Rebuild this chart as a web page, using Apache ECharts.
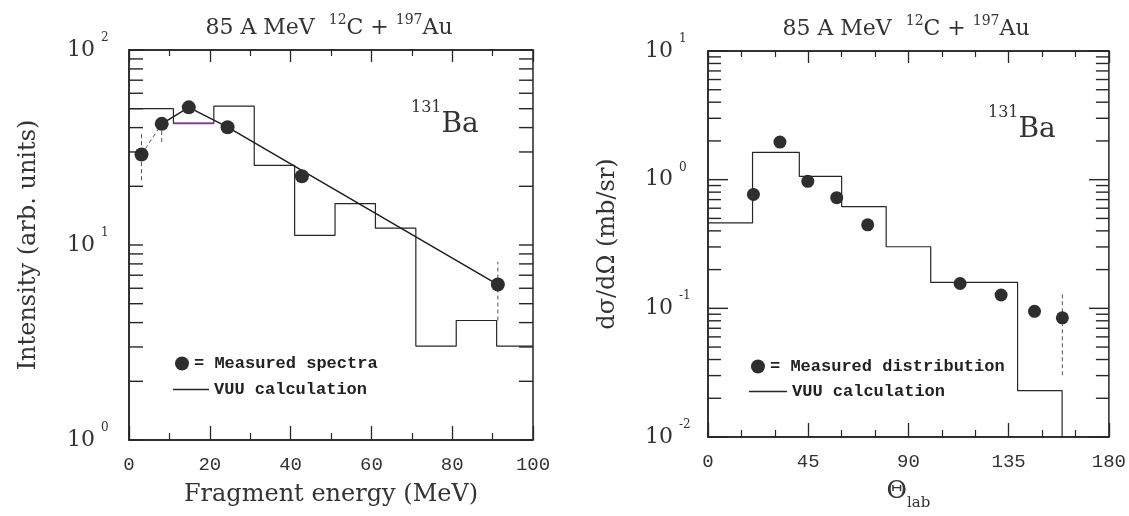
<!DOCTYPE html>
<html><head><meta charset="utf-8">
<script src="https://cdn.jsdelivr.net/npm/echarts@6/dist/echarts.min.js"></script>
<style>html,body{margin:0;padding:0;background:#fff}#c{width:1129px;height:516px}</style>
</head><body><div id="c"></div>
<script>
// ---------- data ----------
// Left panel: fragment energy spectrum of 131Ba
const leftEdges = [0, 11, 21, 31, 41, 51, 61, 71, 81, 91, 100];       // VUU histogram bin edges (MeV)
const leftVUU = [50, 42, 51.5, 25.6, 11.2, 16.3, 12.2, 3.03, 4.1, 3.03]; // VUU levels
const leftEnergy = [3.1, 8.1, 14.8, 24.4, 42.8, 91.3];               // measured points x
const leftIntensity = [29.1, 41.8, 50.8, 40.2, 22.5, 6.27];          // measured points y
const leftFitIdx = [1, 2, 3, 5];      // solid line through these measured points
const leftDashIdx = [0, 1];           // dashed line through these
const leftErrX = [3.1, 8.1, 91.3];
const leftErrLow = [21.5, 33.7, 4.1];
const leftErrHigh = [37.5, 41.8, 8.2];
const leftYTicks = [1,2,3,4,5,6,7,8,9,10,20,30,40,50,60,70,80,90,100];

// Right panel: angular distribution of 131Ba
const rightEdges = [0, 20, 41, 60, 80, 100, 139, 159];
const rightVUU = [0.461, 1.63, 1.06, 0.618, 0.301, 0.159, 0.0229];
const rightTheta = [20.4, 32.3, 44.8, 57.8, 71.7, 113.2, 131.6, 146.6, 159.1];
const rightSigma = [0.768, 1.96, 0.971, 0.724, 0.446, 0.156, 0.127, 0.0948, 0.0844];
const rightErrX = [159.1];
const rightErrLow = [0.0302];
const rightErrHigh = [0.135];
const rightYTicks = [0.01,0.02,0.03,0.04,0.05,0.06,0.07,0.08,0.09,0.1,0.2,0.3,0.4,0.5,0.6,0.7,0.8,0.9,1,2,3,4,5,6,7,8,9,10];

const LEFT_X = [0, 100], LEFT_Y = [1, 100];
const RIGHT_X = [0, 180], RIGHT_Y = [0.01, 10];

// ---------- helpers ----------
function steps(edges, levels) {
  const pts = [];
  levels.forEach((v, i) => { pts.push([edges[i], v]); pts.push([edges[i + 1], v]); });
  return pts;
}
const INK = '#262626', TXT = '#333';
const serif = 'DejaVu Serif', mono = 'Liberation Mono';

function tickSeries(xi, yi, ticks, xmin, majorLen, minorLen) {
  return {
    type: 'custom', xAxisIndex: xi, yAxisIndex: yi, silent: true, clip: false, z: 5,
    data: ticks.map(v => [xmin, v]),
    renderItem: (params, api) => {
      const cs = params.coordSys;
      const v = api.value(1);
      const y = api.coord([api.value(0), v])[1];
      const lg = Math.log10(v);
      const major = Math.abs(lg - Math.round(lg)) < 1e-6;
      const len = major ? majorLen : minorLen;
      const st = { stroke: INK, lineWidth: 1.4 };
      return { type: 'group', children: [
        { type: 'line', shape: { x1: cs.x, y1: y, x2: cs.x + len, y2: y }, style: st },
        { type: 'line', shape: { x1: cs.x + cs.width - len, y1: y, x2: cs.x + cs.width, y2: y }, style: st }
      ]};
    }
  };
}
function errSeries(xi, yi, xs, lo, hi) {
  return {
    type: 'custom', xAxisIndex: xi, yAxisIndex: yi, silent: true, z: 3,
    data: xs.map((x, i) => [x, lo[i], hi[i]]),
    renderItem: (params, api) => {
      const p1 = api.coord([api.value(0), api.value(1)]);
      const p2 = api.coord([api.value(0), api.value(2)]);
      return { type: 'line', shape: { x1: p1[0], y1: p1[1], x2: p2[0], y2: p2[1] },
               style: { stroke: '#555', lineWidth: 1, lineDash: [4, 3] } };
    }
  };
}
const expLabel = {
  formatter: v => '{b|10}{e|' + Math.round(Math.log10(v)) + '}',
  align: 'left', margin: 62,
  rich: {
    b: { fontFamily: serif, fontSize: 22, color: TXT, lineHeight: 36, verticalAlign: 'middle' },
    e: { fontFamily: serif, fontSize: 12, color: TXT, lineHeight: 14, verticalAlign: 'top', padding: [0, 0, 0, 6] }
  }
};
function xAx(grid, range, interval, split, pos) {
  const bottom = pos === 'bottom';
  return {
    gridIndex: grid, type: 'value', min: range[0], max: range[1], interval: interval, position: pos,
    axisLine: { show: true, lineStyle: { color: INK, width: 1.5 } },
    axisTick: { show: true, inside: true, length: bottom ? 14 : 12, lineStyle: { color: INK, width: 1.3 } },
    minorTick: { show: true, splitNumber: split, length: bottom ? 7 : 6, lineStyle: { color: INK, width: 1.2 } },
    splitLine: { show: false }, minorSplitLine: { show: false },
    axisLabel: { show: bottom, fontFamily: mono, fontSize: 19, color: TXT, margin: 15, showMinLabel: true, showMaxLabel: true }
  };
}
function titleRich() {
  return {
    n: { fontFamily: serif, fontSize: 22, fontWeight: 'normal', color: TXT, lineHeight: 30, verticalAlign: 'middle' },
    s: { fontFamily: serif, fontSize: 14, fontWeight: 'normal', color: TXT, lineHeight: 14, verticalAlign: 'top' }
  };
}
function baRich() {
  return {
    b: { fontFamily: serif, fontSize: 28, fontWeight: 'normal', color: TXT, lineHeight: 50, verticalAlign: 'middle' },
    s: { fontFamily: serif, fontSize: 16, fontWeight: 'normal', color: TXT, lineHeight: 16, verticalAlign: 'top' }
  };
}
const legText = { fontFamily: mono, fontSize: 17, fontWeight: 'bold', color: '#222' };

const TITLE_TXT = '{n|85 A MeV  }{s|12}{n|C + }{s|197}{n|Au}';

const option = {
  animation: false,
  backgroundColor: '#ffffff',
  title: [
    { text: TITLE_TXT, left: 329, top: 13, textAlign: 'center', padding: 0, textStyle: { fontWeight: 'normal', rich: titleRich() } },
    { text: TITLE_TXT, left: 906, top: 14, textAlign: 'center', padding: 0, textStyle: { fontWeight: 'normal', rich: titleRich() } },
    { text: '{s|131}{b|Ba}', left: 411, top: 100, padding: 0, textStyle: { fontWeight: 'normal', rich: baRich() } },
    { text: '{s|131}{b|Ba}', left: 988, top: 105, padding: 0, textStyle: { fontWeight: 'normal', rich: baRich() } }
  ],
  legend: [
    { data: ['= Measured spectra'], left: 175, top: 355, icon: 'circle', itemWidth: 14, itemHeight: 14, padding: 0, selectedMode: false, textStyle: legText },
    { data: ['VUU calculation'], left: 173, top: 381, icon: 'rect', itemWidth: 36, itemHeight: 1.6, padding: 0, selectedMode: false, textStyle: legText },
    { data: ['= Measured distribution'], left: 751, top: 358, icon: 'circle', itemWidth: 14, itemHeight: 14, padding: 0, selectedMode: false, textStyle: legText },
    { data: ['VUU calculation'], left: 749, top: 383, icon: 'rect', itemWidth: 38, itemHeight: 1.6, padding: 0, selectedMode: false, textStyle: legText }
  ],
  grid: [
    { left: 129, top: 50, width: 404, height: 390, show: true, borderColor: INK, borderWidth: 1.5, backgroundColor: 'transparent' },
    { left: 708, top: 51, width: 401, height: 391, show: true, borderColor: INK, borderWidth: 1.5, backgroundColor: 'transparent' }
  ],
  xAxis: [
    Object.assign(xAx(0, LEFT_X, 20, 2, 'bottom'), {
      name: 'Fragment energy (MeV)', nameLocation: 'middle', nameGap: 43,
      nameTextStyle: { fontFamily: serif, fontSize: 24, color: TXT }
    }),
    xAx(0, LEFT_X, 20, 2, 'top'),
    Object.assign(xAx(1, RIGHT_X, 45, 3, 'bottom'), {
      name: '{t|Θ}{s|lab}', nameLocation: 'middle', nameGap: 34,
      nameTextStyle: { rich: {
        t: { fontFamily: serif, fontSize: 25, color: TXT, lineHeight: 40, verticalAlign: 'middle' },
        s: { fontFamily: serif, fontSize: 15, color: TXT, lineHeight: 12, verticalAlign: 'bottom' }
      } }
    }),
    xAx(1, RIGHT_X, 45, 3, 'top')
  ],
  yAxis: [
    { gridIndex: 0, type: 'log', logBase: 10, min: LEFT_Y[0], max: LEFT_Y[1],
      axisLine: { show: true, lineStyle: { color: INK, width: 1.5 } }, axisTick: { show: false },
      splitLine: { show: false }, minorTick: { show: false }, minorSplitLine: { show: false },
      axisLabel: expLabel,
      name: 'Intensity (arb. units)', nameLocation: 'middle', nameGap: 88,
      nameTextStyle: { fontFamily: serif, fontSize: 24, color: TXT } },
    { gridIndex: 1, type: 'log', logBase: 10, min: RIGHT_Y[0], max: RIGHT_Y[1],
      axisLine: { show: true, lineStyle: { color: INK, width: 1.5 } }, axisTick: { show: false },
      splitLine: { show: false }, minorTick: { show: false }, minorSplitLine: { show: false },
      axisLabel: Object.assign({}, expLabel, { margin: 63 }),
      name: 'dσ/dΩ (mb/sr)', nameLocation: 'middle', nameGap: 88,
      nameTextStyle: { fontFamily: serif, fontSize: 24, color: TXT } }
  ],
  series: [
    // ---- left panel ----
    { name: 'VUU calculation', type: 'line', xAxisIndex: 0, yAxisIndex: 0, symbol: 'none',
      data: steps(leftEdges, leftVUU), lineStyle: { color: INK, width: 1.2 }, itemStyle: { color: INK }, z: 2 },
    { name: 'vuu-bin2', type: 'line', xAxisIndex: 0, yAxisIndex: 0, symbol: 'none',
      data: steps(leftEdges.slice(1, 3), leftVUU.slice(1, 2)), lineStyle: { color: '#7a3c8e', width: 1.8 }, z: 2 },
    { name: 'fit', type: 'line', xAxisIndex: 0, yAxisIndex: 0, symbol: 'none',
      data: leftFitIdx.map(i => [leftEnergy[i], leftIntensity[i]]), lineStyle: { color: '#1e1e1e', width: 1.5 }, z: 3 },
    { name: 'fit-dash', type: 'line', xAxisIndex: 0, yAxisIndex: 0, symbol: 'none',
      data: leftDashIdx.map(i => [leftEnergy[i], leftIntensity[i]]), lineStyle: { color: '#555', width: 1, type: [4, 3] }, z: 3 },
    errSeries(0, 0, leftErrX, leftErrLow, leftErrHigh),
    { name: '= Measured spectra', type: 'scatter', xAxisIndex: 0, yAxisIndex: 0, symbol: 'circle', symbolSize: 14,
      data: leftEnergy.map((x, i) => [x, leftIntensity[i]]), itemStyle: { color: '#2e2e2e', opacity: 1 }, z: 4 },
    tickSeries(0, 0, leftYTicks, LEFT_X[0], 14, 14),
    // ---- right panel ----
    { name: 'VUU calculation', type: 'line', xAxisIndex: 2, yAxisIndex: 1, symbol: 'none',
      data: steps(rightEdges, rightVUU).concat([[rightEdges[rightEdges.length - 1], RIGHT_Y[0]]]),
      lineStyle: { color: INK, width: 1.2 }, itemStyle: { color: INK }, z: 2 },
    errSeries(2, 1, rightErrX, rightErrLow, rightErrHigh),
    { name: '= Measured distribution', type: 'scatter', xAxisIndex: 2, yAxisIndex: 1, symbol: 'circle', symbolSize: 13,
      data: rightTheta.map((x, i) => [x, rightSigma[i]]), itemStyle: { color: '#2e2e2e', opacity: 1 }, z: 4 },
    tickSeries(2, 1, rightYTicks, RIGHT_X[0], 20, 13)
  ]
};
const chart = echarts.init(document.getElementById('c'), null, { renderer: 'canvas' });
chart.setOption(option);
</script></body></html>
